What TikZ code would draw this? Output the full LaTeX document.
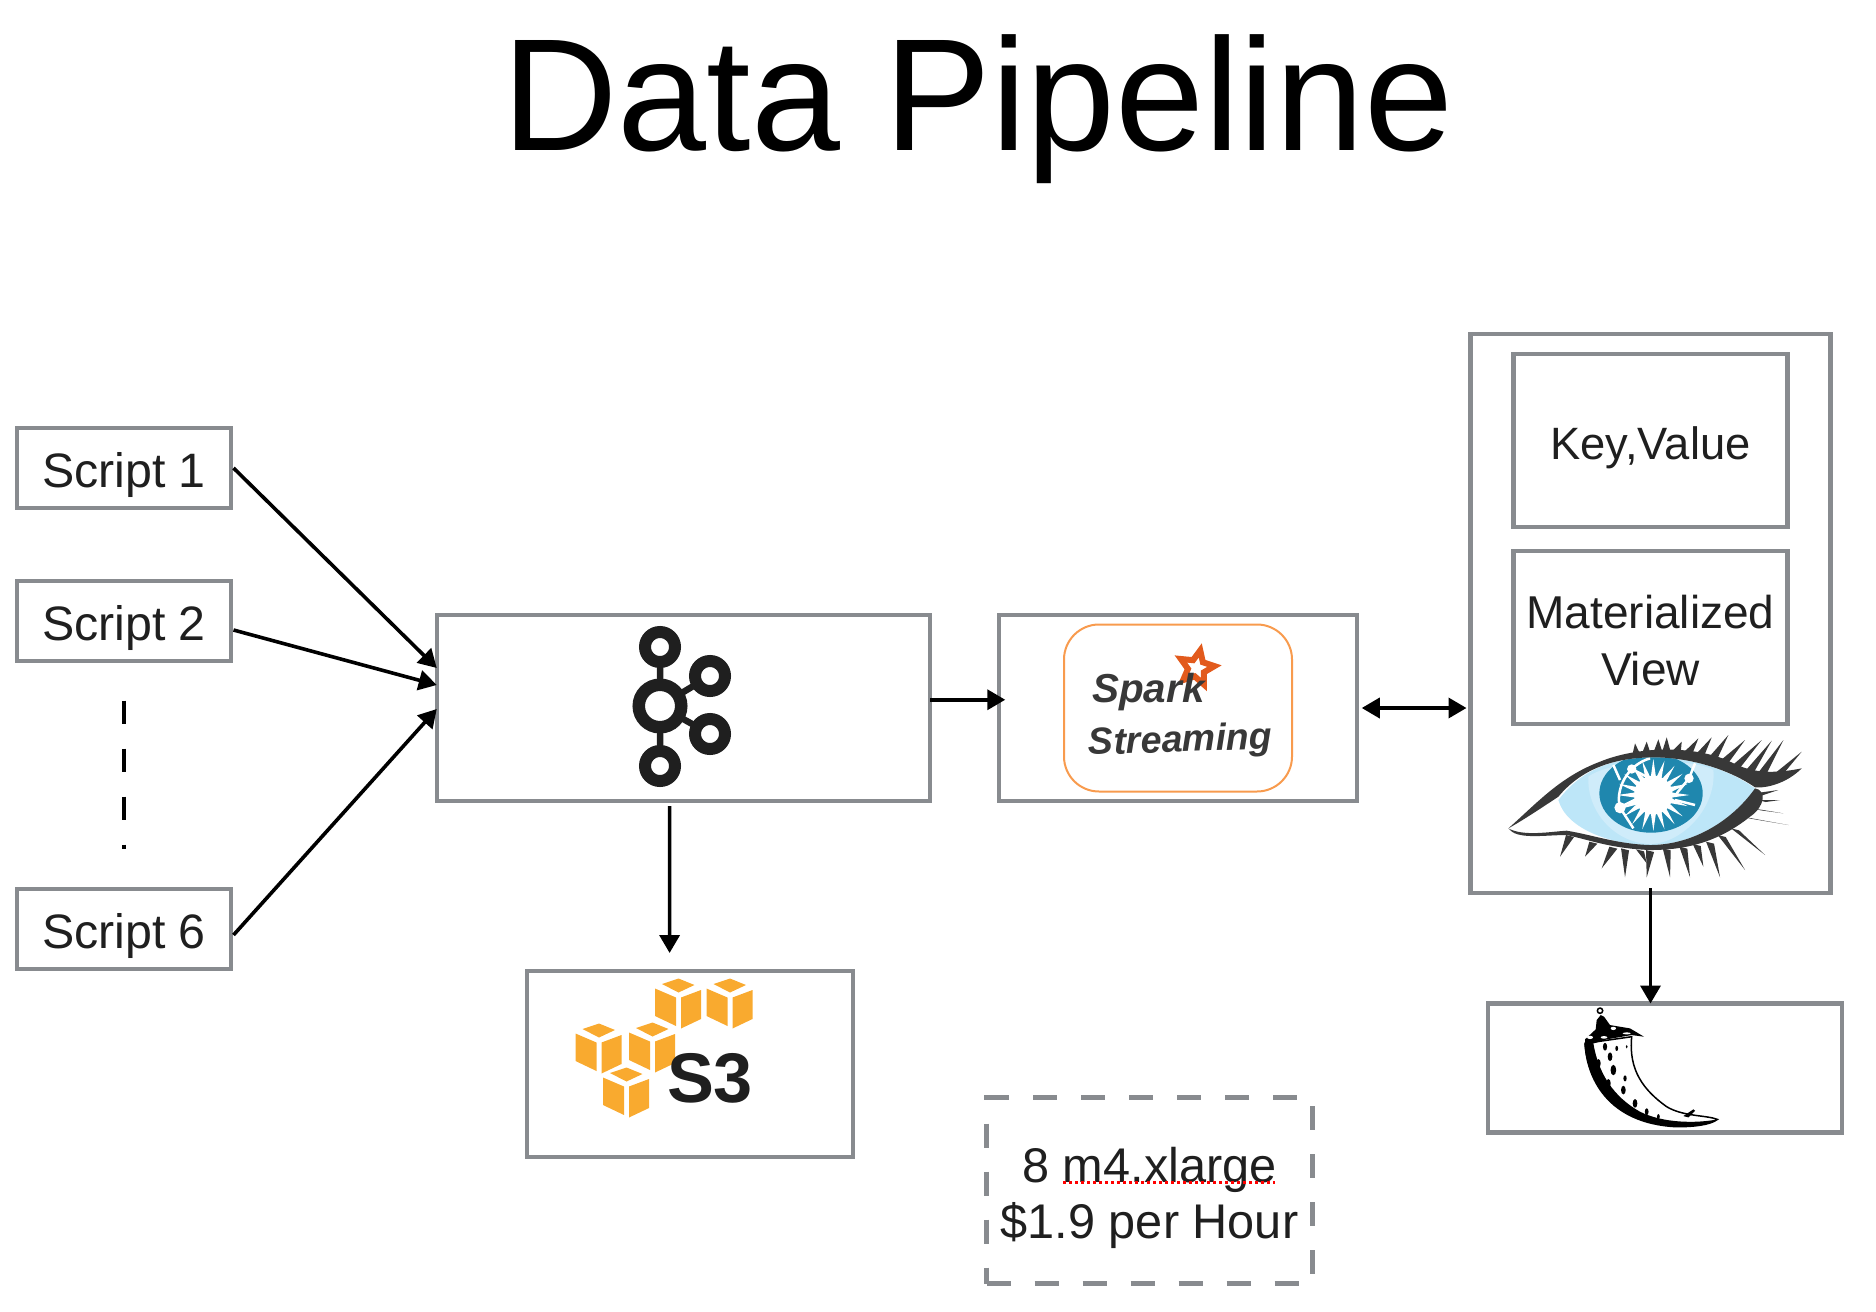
\documentclass[tikz,border=0pt]{standalone}
\usepackage{fontspec}
\setmainfont{Liberation Sans}
\usetikzlibrary{positioning,shapes.geometric,arrows.meta,calc}
\definecolor{boxgrey}{HTML}{888B8F}
\definecolor{kafkablack}{HTML}{1F1F1F}
\definecolor{sparkedge}{HTML}{F89B4E}
\definecolor{sparkstar}{HTML}{E25A1C}
\definecolor{awsorange}{HTML}{F9AA2F}
\definecolor{eyedark}{HTML}{383838}
\definecolor{eyeiris}{HTML}{1F87AE}
\definecolor{eyewhite}{HTML}{BDE6F8}
\definecolor{eyeglow}{HTML}{CFECFA}
\newcommand{\labelsize}[1]{\fontsize{#1}{32}\selectfont}

\begin{document}
\begin{tikzpicture}[
box/.style={rectangle, draw=boxgrey, line width=0.085cm, outer sep=0pt, inner sep=0pt, align=center, font=\labelsize{26.2}, text=black!88},
script/.style={box, minimum width=4.28cm, minimum height=1.6cm, font=\labelsize{27.5}, text height=0.96cm, text depth=0.2cm},
dashedbox/.style={box, dash pattern=on 0.48cm off 0.48cm},
boxtext/.style={align=center, text=black!88, inner sep=0pt},
conn/.style={line width=0.072cm, -{Triangle[length=0.36cm,width=0.4cm]}},
biconn/.style={line width=0.072cm, {Triangle[length=0.36cm,width=0.4cm]}-{Triangle[length=0.36cm,width=0.4cm]}}
]
\useasboundingbox (0,0) rectangle (37.52,-26.24);

\node[anchor=base] (title) at (19.56,-3.02) {\fontsize{91}{100}\selectfont Data Pipeline};

%Scripts
\node[script] (s1) at (2.48,-9.36) {Script 1};
\node[script] (s2) [below=1.46cm of s1] {Script 2};
\node[script] (s6) [below=4.56cm of s2] {Script 6};

%Boxes
\node[box, minimum width=9.87cm, minimum height=3.72cm] (kafka) at (13.67,-14.16) {};
\node[box, minimum width=7.15cm, minimum height=3.72cm] (spark) [right=1.38cm of kafka] {};
\node[box, minimum width=6.52cm, minimum height=3.72cm] (s3) [below=3.4cm of kafka, xshift=0.125cm] {};
\node[box, minimum width=7.2cm, minimum height=11.18cm] (cass) at (33.01,-12.27) {};
\node[box, minimum width=5.48cm, minimum height=3.45cm, font=\labelsize{25.8}, text height=0.92cm, text depth=0.17cm] (keyvalue) at (33.01,-8.81) {Key,Value};
\node[box, minimum width=5.48cm, minimum height=3.45cm] (matview) [below=0.49cm of keyvalue] {};
\node[boxtext, font=\labelsize{26.2}] (matviewtext) at ($(matview.center)+(0,-0.06)$) {Materialized\\View};
\node[box, minimum width=7.08cm, minimum height=2.58cm] (flask) at (33.3,-21.36) {};
\node[dashedbox, minimum width=6.52cm, minimum height=3.72cm] (cost) at (22.99,-23.81) {};
\node[boxtext, font=\labelsize{27.7}] (costtext) at ($(cost.center)+(0,-0.15)$) {8 m4.xlarge\\\$1.9 per Hour};

%Spell check mark
\coordinate (markstart) at ($(cost.center)+(-1.73,0.16)$);
\coordinate (markend) at ($(cost.center)+(2.5,0.16)$);
\draw[red, line width=0.06cm, dash pattern=on 0.06cm off 0.06cm] (markstart) -- (markend);

%Connections
\draw[conn] ($(s1.east)+(0.05,0)$) -- ($(kafka.west)+(0,0.8)$);
\draw[conn] ($(s2.east)+(0.05,-0.18)$) -- ($(kafka.west)+(0,0.46)$);
\draw[conn] ($(s6.east)+(0.05,-0.12)$) -- ($(kafka.west)+(0,-0.02)$);
\draw[line width=0.08cm, dash pattern=on 0.46cm off 0.5cm] ($(s2.south)+(0,-0.79)$) -- ($(s6.north)+(0,0.81)$);
\draw[conn] ($(kafka.east)+(0,0.165)$) -- ($(spark.west)+(0.12,0.165)$);
\draw[conn] ($(kafka.south)+(-0.278,-0.1)$) -- ($(s3.north)+(-0.403,0.36)$);
\draw[biconn] ($(spark.east)+(0.1,0)$) -- ($(spark.east -| cass.west)+(-0.08,0)$);
\draw[conn] ($(cass.south)+(0,0.1)$) -- (cass.south |- flask.north);

%Kafka logo
\begin{scope}[shift={(13.2,-14.12)}, draw=kafkablack]
\draw[line width=0.13cm] (0,0) -- (0,1.18) (0,0) -- (0,-1.2) (0,0) -- (1,0.6) (0,0) -- (1,-0.56);
\draw[line width=0.25cm, fill=white] (0,0) circle (0.425);
\foreach \kx/\ky in {0/1.18, 0/-1.2, 1/0.6, 1/-0.56}
  \draw[line width=0.24cm, fill=white] (\kx,\ky) circle (0.3);
\end{scope}

%Spark logo
\node[draw=sparkedge, line width=0.04cm, rounded corners=0.7cm, minimum width=4.56cm, minimum height=3.34cm] (sparkbg) at (spark.center) {};
\node[star, star points=5, star point ratio=2.1, draw=sparkstar, line width=0.12cm, minimum size=0.72cm, inner sep=0pt, rotate=-12] (sparklogo) at (23.93,-13.36) {};
\node[text=eyedark, font=\fontsize{23}{26}\selectfont\bfseries\itshape] (sparktext) at (22.97,-13.84) {Spark};
\node[text=eyedark, font=\fontsize{21.4}{26}\selectfont\bfseries\itshape, rotate=2] (streamtext) at (23.61,-14.84) {Streaming};

%S3 logo
\foreach \cx/\cy in {13.57/-19.57, 14.6/-19.57, 11.98/-20.47, 13.05/-20.45, 12.53/-21.35}{
\begin{scope}[shift={(\cx,\cy)}, fill=awsorange]
\fill (-0.33,-0.11) -- (0,0) -- (0.32,-0.13) -- (0,-0.28) -- cycle;
\fill (-0.47,-0.2) -- (-0.05,-0.38) -- (-0.05,-0.95) -- (-0.47,-0.75) -- cycle;
\fill (0.05,-0.38) -- (0.45,-0.23) -- (0.45,-0.81) -- (0.05,-1) -- cycle;
\end{scope}}
\node[text=black!88, font=\fontsize{40}{44}\selectfont\bfseries] (s3text) at (14.2,-21.56) {S3};

%Cassandra logo
\begin{scope}[shift={(29,-14)}, x=0.00667cm, y=-0.00667cm]
\fill[eyewhite] (325,300) .. controls (400,200) and (500,175) .. (600,172) .. controls (720,170) and (840,210) .. (915,265) .. controls (840,370) and (720,435) .. (600,435) .. controls (490,435) and (350,390) .. (325,300);
\fill[eyeglow] (415,230) .. controls (480,180) and (720,170) .. (790,210) .. controls (800,320) and (700,430) .. (600,432) .. controls (500,430) and (410,340) .. (415,230);
\begin{scope}
\clip (325,300) .. controls (400,200) and (500,175) .. (600,172) .. controls (720,170) and (840,210) .. (915,265) .. controls (840,370) and (720,435) .. (600,435) .. controls (490,435) and (350,390) .. (325,300);
\fill[eyeiris] (603,280) ellipse (155 and 118);
\end{scope}
\fill[white] (610,285) circle (58);
\foreach \ang in {0,18,...,342}
  \fill[white] (610,285) +(\ang-9:52) -- +(\ang:108) -- +(\ang+9:52) -- cycle;
\draw[white, line width=0.05cm] (600,175) .. controls (530,195) and (495,270) .. (510,323) -- (550,385) (490,195) -- (510,240) (545,207) -- (590,230) (717,235) -- (680,280) (735,190) -- (717,235) (510,323) -- (560,310) (675,300) -- (735,315);
\fill[white] (510,323) circle (17) (545,207) circle (14) (717,235) circle (14);
%lids
\fill[eyedark] (175,385) .. controls (260,310) and (330,230) .. (450,185) .. controls (560,140) and (720,135) .. (830,180) .. controls (880,205) and (930,230) .. (1055,205) .. controls (1010,250) and (950,265) .. (915,262) .. controls (840,210) and (720,170) .. (600,172) .. controls (500,175) and (400,200) .. (325,290) .. controls (280,320) and (220,360) .. (175,385);
\fill[eyedark] (175,385) .. controls (220,410) and (300,395) .. (350,392) .. controls (430,405) and (500,432) .. (600,435) .. controls (720,435) and (840,370) .. (915,265) .. controls (950,270) and (945,320) .. (900,350) .. controls (800,430) and (700,450) .. (600,450) .. controls (480,445) and (420,420) .. (350,405) .. controls (280,405) and (200,420) .. (175,385);
%lashes
\foreach \ax/\ay/\tx/\ty in {
560/160/555/130, 590/155/590/125, 625/150/625/118, 650/150/650/112, 680/152/695/125, 715/155/745/115,
750/162/785/112, 790/170/835/105, 825/180/885/120, 860/195/935/120, 900/210/965/122, 935/220/1000/120, 980/225/1055/155,
360/405/330/470, 430/425/405/470, 490/440/455/505, 525/445/525/532, 570/448/590/490, 600/450/590/532,
650/445/660/532, 700/440/720/532, 740/432/760/500, 780/425/810/532, 815/405/885/510, 855/385/945/465,
890/350/1015/375, 920/325/1000/340, 935/300/990/300, 925/280/985/270}
  \fill[eyedark] (\ax-12,\ay) -- (\tx,\ty) -- (\ax+12,\ay+6) -- cycle;
\end{scope}

%Flask logo
\begin{scope}[shift={(29,-14)}, x=0.00667cm, y=-0.00667cm]
\draw[line width=0.03cm, fill=white] (405,1030) .. controls (410,1130) and (470,1270) .. (680,1280) .. controls (730,1280) and (780,1275) .. (802,1258) .. controls (770,1245) and (700,1250) .. (650,1220) .. controls (580,1170) and (535,1110) .. (545,1010) -- cycle;
\fill[black] (403,1030) .. controls (410,1130) and (470,1270) .. (680,1280) .. controls (720,1280) and (780,1275) .. (802,1258) .. controls (740,1270) and (640,1270) .. (570,1235) .. controls (490,1190) and (445,1120) .. (430,1030) -- cycle;
\fill[black] (405,1018) -- (437,988) -- (440,960) -- (452,945) -- (462,950) -- (480,975) -- (540,985) -- (582,1010) -- (545,1005) -- (470,1018) -- (405,1038) -- cycle;
\fill[white] (420,1012) ellipse (9 and 5) (462,1012) ellipse (10 and 4) (490,985) ellipse (8 and 5) (530,1000) ellipse (12 and 3);
\draw[line width=0.03cm, fill=white] (450,932) circle (8);
\fill[black] (700,1248) -- (730,1228) -- (735,1232) -- (715,1252) -- cycle;
\foreach \fx/\fy/\fr in {480/1070/10, 500/1045/6, 490/1110/12, 525/1135/7, 520/1170/10, 555/1210/10, 530/1040/4, 590/1235/8, 465/1040/9, 625/1250/6, 445/1090/10, 475/1150/10}
  \fill[black] (\fx,\fy) ellipse (\fr*0.7 and \fr*1.3);
\end{scope}
\end{tikzpicture}
\end{document}
